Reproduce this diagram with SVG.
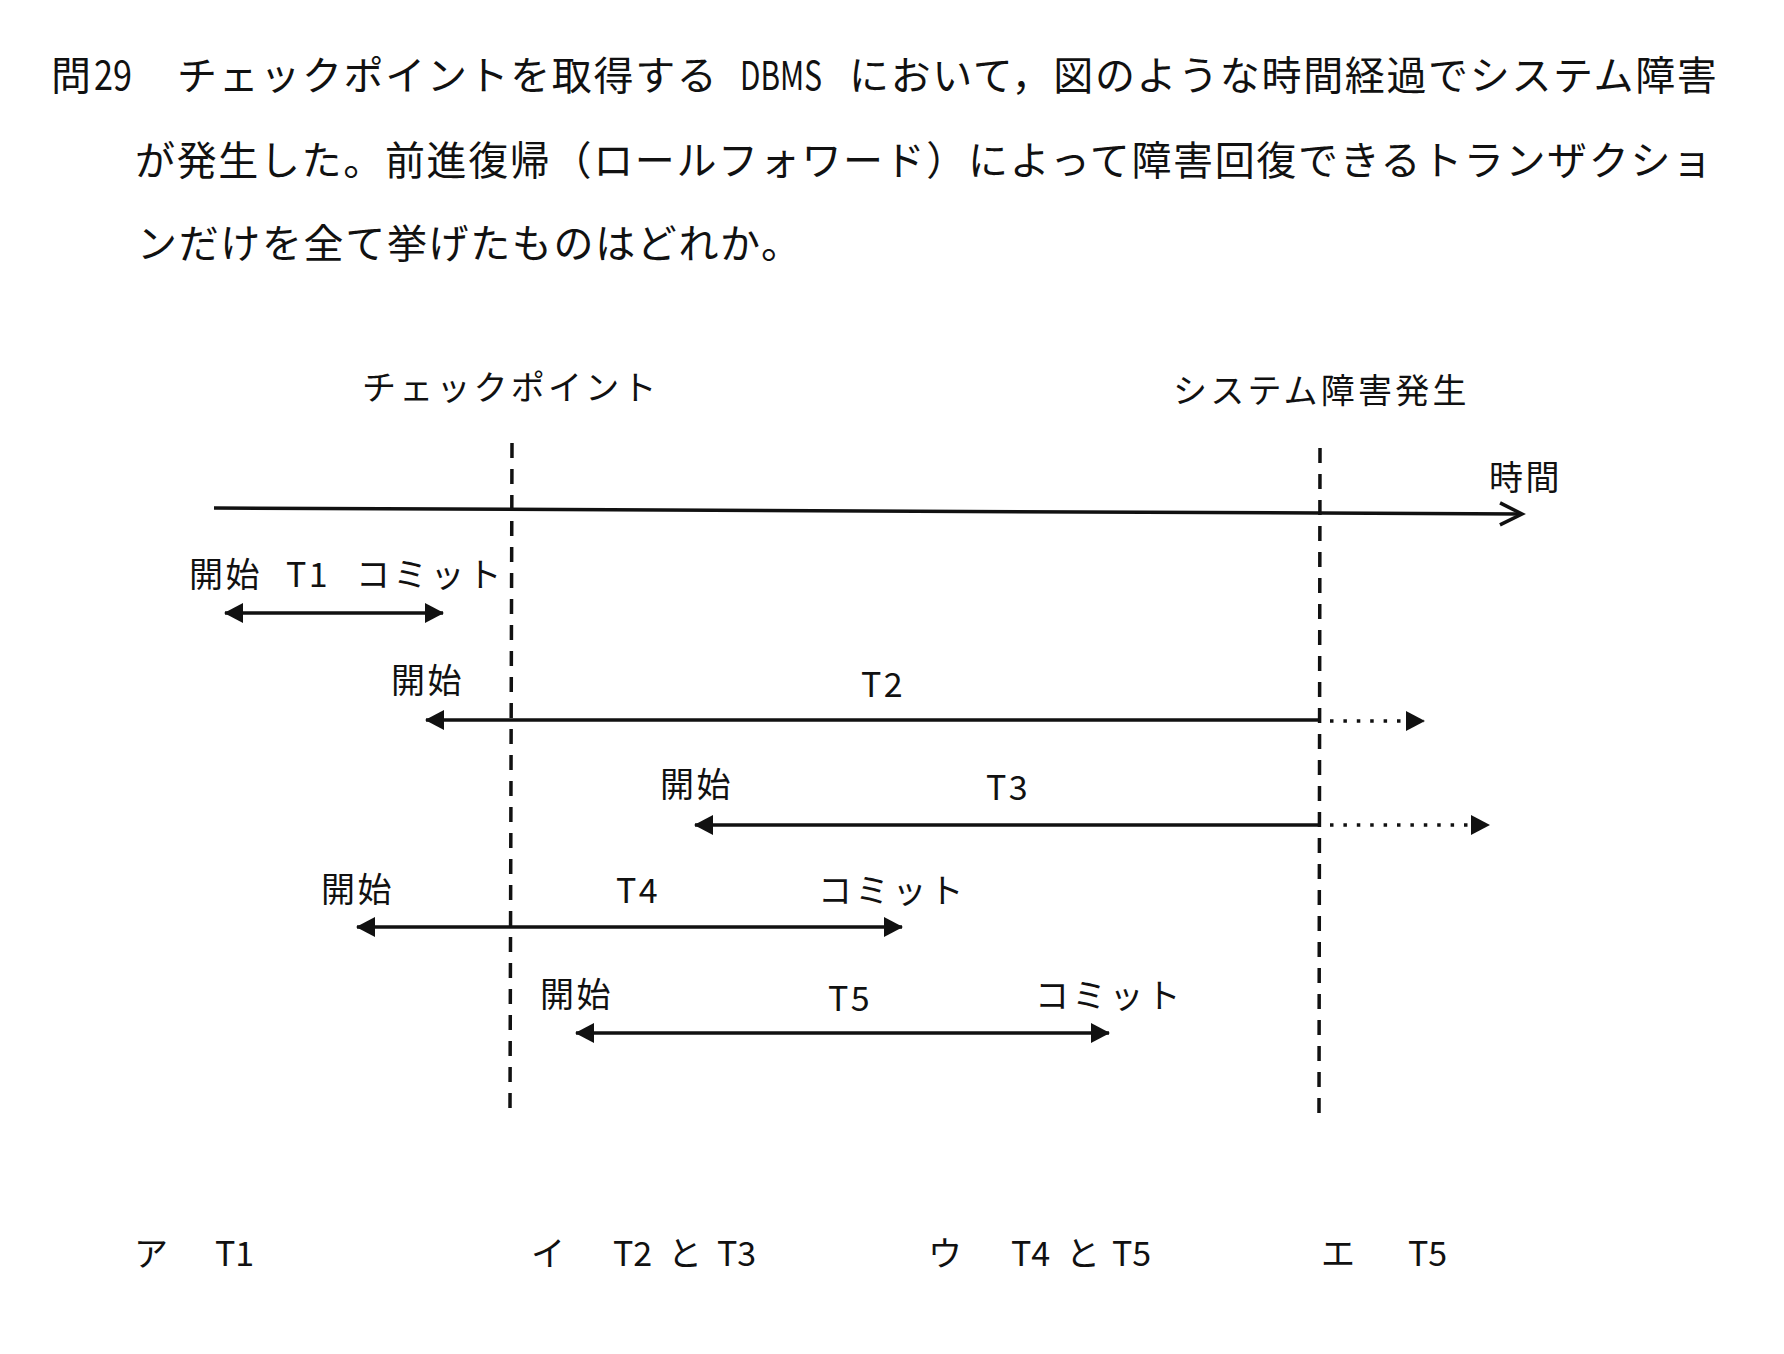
<svg xmlns="http://www.w3.org/2000/svg" width="1784" height="1354" viewBox="0 0 1784 1354">
<style>
  text { font-family: "Noto Sans CJK JP", "Noto Sans", sans-serif; fill: #111; }
  .q { font-size: 40px; letter-spacing: 1.65px; }
  .lbl { font-size: 34px; letter-spacing: 2.5px; }
  .wide { font-size: 34px; letter-spacing: 3.2px; }
  .ans { font-size: 34px; }
  .solid { stroke: #111; stroke-width: 3.5; fill: none; }
  .dash { stroke: #111; stroke-width: 3.5; stroke-dasharray: 15 11; fill: none; }
  .dot { stroke: #111; stroke-width: 3.5; stroke-dasharray: 3.5 9.9; fill: none; }
</style>
<defs>
  <marker id="arrowFill" viewBox="0 0 19 20" refX="18" refY="10" markerWidth="19" markerHeight="20" markerUnits="userSpaceOnUse" orient="auto-start-reverse" overflow="visible">
    <path d="M0,0 L19,10 L0,20 Z" fill="#111"/>
  </marker>
  <marker id="arrowOpen" viewBox="0 0 24 24" refX="22" refY="12" markerWidth="24" markerHeight="24" markerUnits="userSpaceOnUse" orient="auto" overflow="visible">
    <path d="M0,1 L22,12 L0,23" fill="none" stroke="#111" stroke-width="3.5" stroke-linejoin="miter"/>
  </marker>
</defs>
<rect width="1784" height="1354" fill="#fff"/>

<g id="question">
  <text class="q" x="51" y="90">問</text>
  <text class="q" x="94" y="90" textLength="38" lengthAdjust="spacingAndGlyphs" style="letter-spacing:0">29</text>
  <text class="q" x="177" y="90">チェックポイントを取得する</text>
  <text class="q" x="740" y="90" textLength="82" lengthAdjust="spacingAndGlyphs" style="letter-spacing:0">DBMS</text>
  <text class="q" x="849" y="90">において，図のような時間経過でシステム障害</text>
  <text class="q" x="135" y="175">が発生した。前進復帰（ロールフォワード）によって障害回復できるトランザクショ</text>
  <text class="q" x="137" y="258">ンだけを全て挙げたものはどれか。</text>
</g>

<g id="checkpoint">
  <text class="wide" x="362" y="400">チェックポイント</text>
</g>
<g id="failure">
  <text class="wide" x="1173" y="403">システム障害発生</text>
</g>
<g id="time-axis">
  <text class="lbl" x="1489" y="490">時間</text>
</g>

<g id="T1">
  <text class="lbl" x="189" y="587">開始</text>
  <text class="lbl" x="286" y="587">T1</text>
  <text class="wide" x="356" y="587">コミット</text>
</g>
<g id="T2">
  <text class="lbl" x="391" y="693">開始</text>
  <text class="lbl" x="861" y="697">T2</text>
</g>
<g id="T3">
  <text class="lbl" x="660" y="797">開始</text>
  <text class="lbl" x="986" y="800">T3</text>
</g>
<g id="T4">
  <text class="lbl" x="321" y="902">開始</text>
  <text class="lbl" x="616" y="903">T4</text>
  <text class="wide" x="818" y="903">コミット</text>
</g>
<g id="T5">
  <text class="lbl" x="540" y="1007">開始</text>
  <text class="lbl" x="828" y="1011">T5</text>
  <text class="wide" x="1035" y="1008">コミット</text>
</g>

<g id="answers">
  <text class="ans" x="134" y="1266">ア</text>
  <text class="ans" x="215" y="1266">T1</text>
  <text class="ans" x="531" y="1266">イ</text>
  <text class="ans" x="613" y="1266">T2</text>
  <text class="ans" x="668" y="1266">と</text>
  <text class="ans" x="717" y="1266">T3</text>
  <text class="ans" x="928" y="1266">ウ</text>
  <text class="ans" x="1011" y="1266">T4</text>
  <text class="ans" x="1066" y="1266">と</text>
  <text class="ans" x="1112" y="1266">T5</text>
  <text class="ans" x="1321" y="1266">エ</text>
  <text class="ans" x="1408" y="1266">T5</text>
</g>

<g id="connectors">
  <line class="dash" x1="512" y1="443" x2="510" y2="1108"/>
  <line class="dash" x1="1320" y1="448" x2="1319" y2="1113"/>
  <line class="solid" x1="214" y1="508" x2="1522" y2="514" marker-end="url(#arrowOpen)"/>
  <line class="solid" x1="225" y1="613" x2="443" y2="613" marker-start="url(#arrowFill)" marker-end="url(#arrowFill)"/>
  <line class="solid" x1="426" y1="720" x2="1320" y2="720" marker-start="url(#arrowFill)"/>
  <line class="dot" x1="1330" y1="721" x2="1424" y2="721" marker-end="url(#arrowFill)"/>
  <line class="solid" x1="695" y1="825" x2="1320" y2="825" marker-start="url(#arrowFill)"/>
  <line class="dot" x1="1330" y1="825" x2="1489" y2="825" marker-end="url(#arrowFill)"/>
  <line class="solid" x1="357" y1="927" x2="902" y2="927" marker-start="url(#arrowFill)" marker-end="url(#arrowFill)"/>
  <line class="solid" x1="576" y1="1033" x2="1109" y2="1033" marker-start="url(#arrowFill)" marker-end="url(#arrowFill)"/>
</g>
</svg>
